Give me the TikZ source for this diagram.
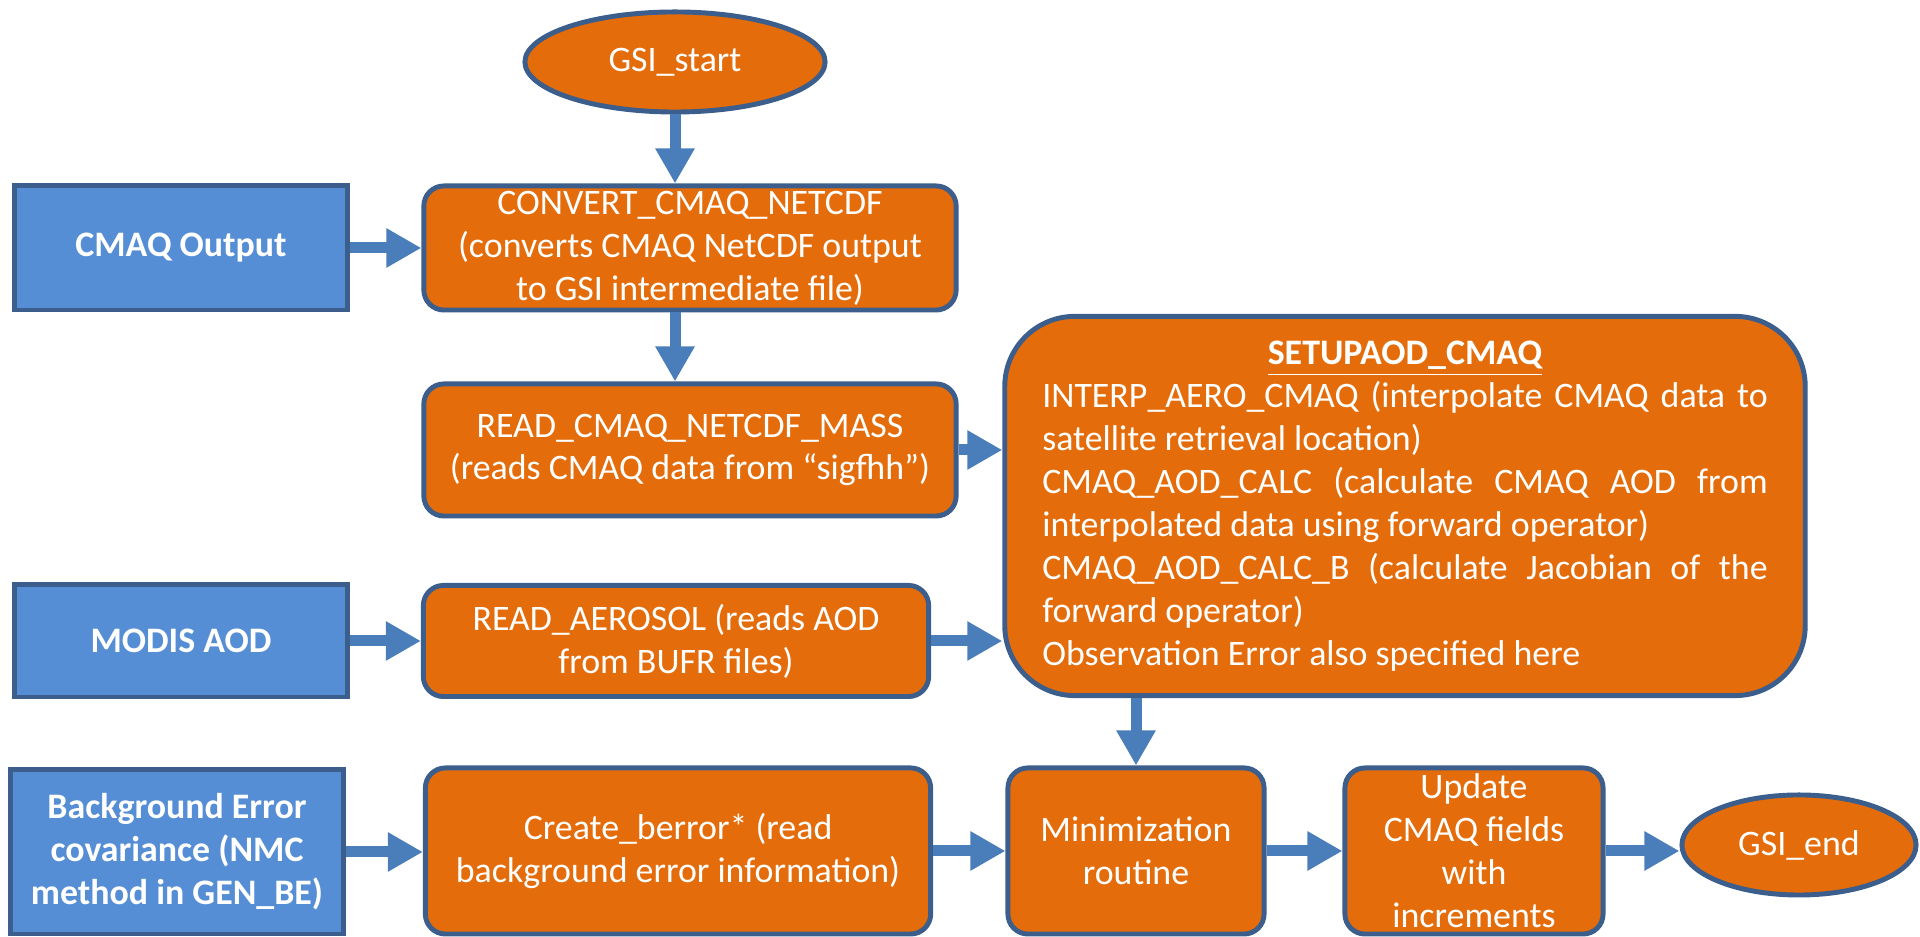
\documentclass[tikz,border=0pt]{standalone}
\usepackage{fontspec}
\setmainfont{Carlito}
\usepackage{tikz}
\usetikzlibrary{arrows.meta,shapes.geometric}
\definecolor{orangefill}{HTML}{E46C0A}
\definecolor{bluefill}{HTML}{558ED5}
\definecolor{edgeblue}{HTML}{3B5E8C}
\definecolor{arrowblue}{HTML}{4A7EBB}

\begin{document}
\begin{tikzpicture}[x=0.01cm,y=0.01cm,
  every node/.style={font=\fontsize{10.2}{12.2}\selectfont,text=white,align=center,
    inner sep=0pt,line width=1.4pt,draw=edgeblue},
  procbox/.style={rectangle,rounded corners=0.2cm,fill=orangefill},
  databox/.style={rectangle,fill=bluefill,font=\fontsize{10.2}{12.2}\selectfont\bfseries},
  termnode/.style={ellipse,fill=orangefill},
  flowarrow/.style={draw=arrowblue,line width=0.11cm,-{Triangle[length=0.35cm,width=0.37cm]}}]
  \useasboundingbox (0,0) rectangle (1920,937);
  % inputs on the left
  \node[databox,minimum width=3.32cm,minimum height=1.24cm] (cmaqout) at (181,689) {CMAQ Output};
  \node[databox,minimum width=3.32cm,minimum height=1.12cm] (modis) at (181,296) {MODIS AOD};
  \node[databox,minimum width=3.33cm,minimum height=1.64cm] (bgerr) at (177,85) {Background Error\\covariance (NMC\\method in GEN\_BE)};
  % processing chain
  \node[termnode,minimum width=3.0cm,minimum height=1.0cm] (start) at (675,875) {GSI\_start};
  \node[procbox,minimum width=5.32cm,minimum height=1.24cm] (convert) at (690,689) {CONVERT\_CMAQ\_NETCDF\\(converts CMAQ NetCDF output\\to GSI intermediate file)};
  \node[procbox,minimum width=5.32cm,minimum height=1.32cm] (rcmaq) at (690,487) {READ\_CMAQ\_NETCDF\_MASS\\(reads CMAQ data from “sigfhh”)};
  \node[procbox,minimum width=5.05cm,minimum height=1.11cm] (raero) at (676,296) {READ\_AEROSOL (reads AOD\\from BUFR files)};
  \node[procbox,rounded corners=0.7cm,minimum width=8.0cm,minimum height=3.79cm,
    text width=7.25cm,align=justify] (setup) at (1405,431) {\parindent=0pt\hyphenpenalty=10000
    {\centering\bfseries\underline{SETUPAOD\_CMAQ}\par}
    INTERP\_AERO\_CMAQ (interpolate CMAQ data to\linebreak satellite retrieval location)\par
    CMAQ\_AOD\_CALC (calculate CMAQ AOD from\linebreak interpolated data using forward operator)\par
    CMAQ\_AOD\_CALC\_B (calculate Jacobian of the\linebreak forward operator)\par
    Observation Error also specified here\par};
  \node[procbox,minimum width=5.05cm,minimum height=1.66cm] (berr) at (678,86) {Create\_berror* (read\\background error information)};
  \node[procbox,minimum width=2.56cm,minimum height=1.66cm] (minim) at (1136,86) {Minimization\\routine};
  \node[procbox,minimum width=2.58cm,minimum height=1.66cm] (update) at (1474,86) {Update\\CMAQ fields\\with\\increments};
  \node[termnode,minimum width=2.34cm,minimum height=1.0cm] (gsiend) at (1799,92) {GSI\_end};
  % block arrows
  \draw[flowarrow] (start.south) -- (convert.north -| start.south);
  \draw[flowarrow] (cmaqout.east) -- (convert.west);
  \draw[flowarrow] (start.south |- convert.south) -- (start.south |- rcmaq.north);
  \draw[flowarrow] (rcmaq.east) -- (rcmaq.east -| setup.west);
  \draw[flowarrow] (modis.east) -- (raero.west);
  \draw[flowarrow] (raero.east) -- (raero.east -| setup.west);
  \draw[flowarrow] (minim.north |- setup.south) -- (minim.north);
  \draw[flowarrow] (bgerr.east) -- (bgerr.east -| berr.west);
  \draw[flowarrow] (berr.east) -- (minim.west);
  \draw[flowarrow] (minim.east) -- (update.west);
  \draw[flowarrow] (update.east) -- (update.east -| gsiend.west);
\end{tikzpicture}
\end{document}
